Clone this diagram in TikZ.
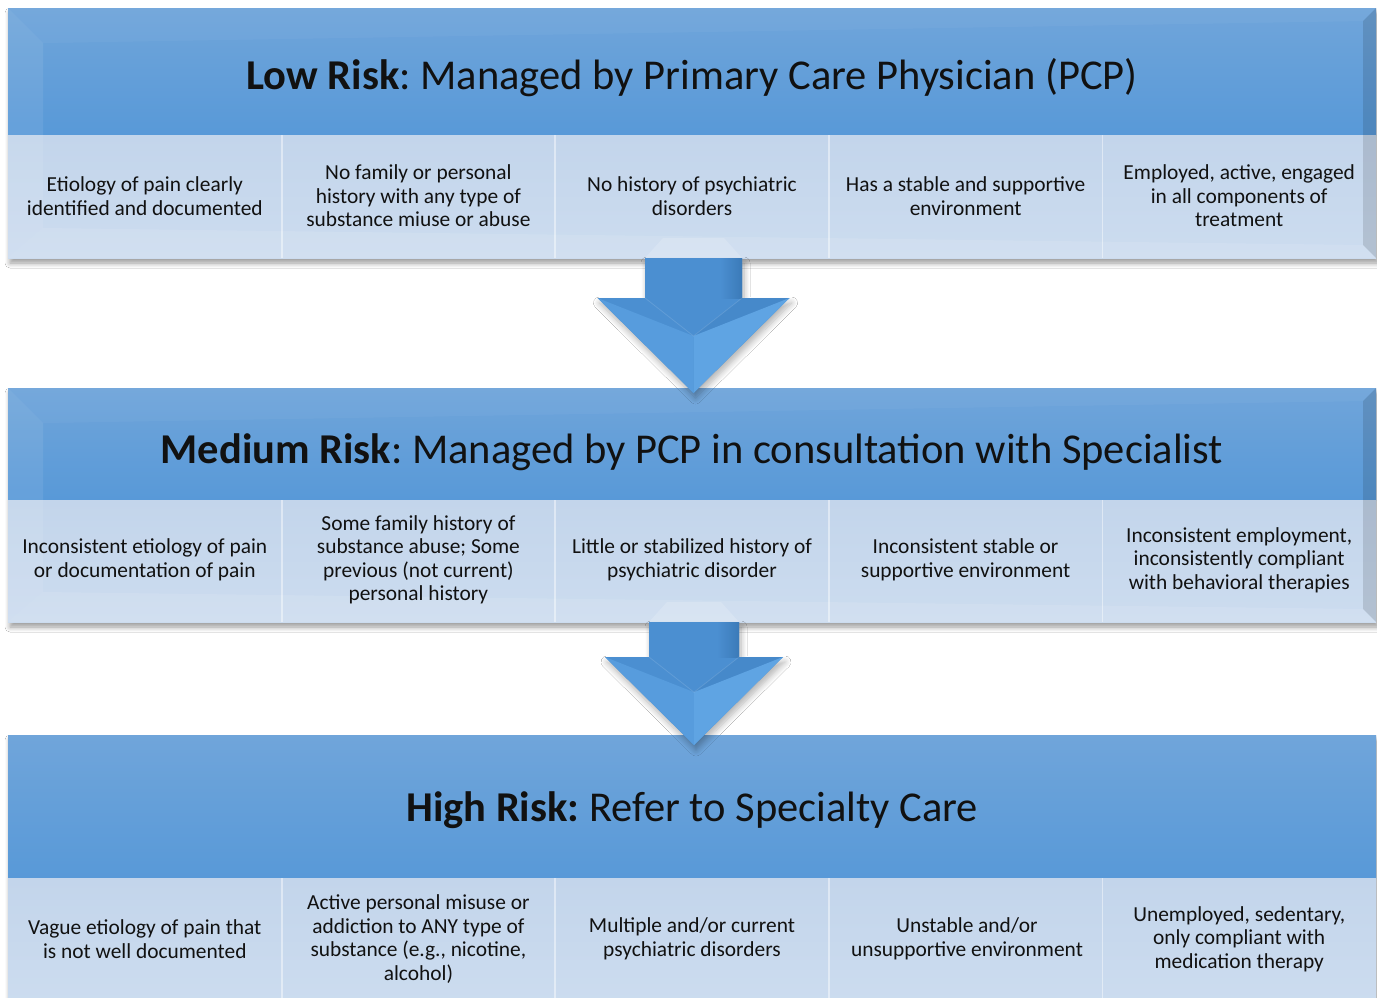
\documentclass[tikz,border=0pt]{standalone}
\usepackage{fontspec}
\setmainfont{Carlito}
\usetikzlibrary{calc,shadows.blur}
\frenchspacing

\definecolor{hdtop}{HTML}{70A5DA}
\definecolor{hdbot}{HTML}{5899D8}
\definecolor{celltop}{HTML}{C3D5EB}
\definecolor{cellbot}{HTML}{CCDCEF}
\definecolor{arrowmain}{HTML}{4B8FD1}
\definecolor{arrowlight}{HTML}{579CDD}
\definecolor{arrowlighter}{HTML}{5FA4E3}
\definecolor{arrowdark}{HTML}{3B7AB8}
\definecolor{inktext}{HTML}{111111}

\tikzset{
  bandshadow/.style={fill=celltop, blur shadow={shadow xshift=2pt, shadow yshift=-5pt,
      shadow opacity=40, shadow blur radius=5pt, shadow blur steps=8}},
  headfill/.style={top color=hdtop, bottom color=hdbot},
  cellfill/.style={top color=celltop, bottom color=cellbot},
  divider/.style={white, opacity=.45, line width=1.8pt},
  titletext/.style={anchor=base, text=inktext, font=\fontsize{42.5}{50}\selectfont},
  celltext/.style={align=center, text=inktext, font=\fontsize{21.4}{23.5}\selectfont},
}

% one risk band: header strip, five cells and the dividers between them
% #1 top, #2 header bottom, #3 band bottom
\newcommand\riskband[3]{%
  \fill[bandshadow] (8,#1) rectangle (1376,#3);
  \shade[headfill] (8,#1) rectangle (1376,#2);
  \shade[cellfill] (8,#2) rectangle (1376,#3);
  \foreach \k in {1,...,4}
    \draw[divider] ({8+273.6*\k},#2) -- ({8+273.6*\k},#3);
}

% bevelled frame on a band: lit on the left, top and bottom, shaded on the right
\newcommand\bandbevel[2]{%
  \fill[white, opacity=.04] (8,#1) -- (1376,#1) -- (1363,#1+13) -- (43,#1+35) -- cycle;
  \fill[white, opacity=.08] (8,#1) -- (43,#1+35) -- (43,#2-30) -- (8,#2) -- cycle;
  \fill[white, opacity=.10] (8,#2) -- (43,#2-30) -- (1363,#2-13) -- (1376,#2) -- cycle;
  \fill[black, opacity=.12] (1376,#1) -- (1363,#1+13) -- (1363,#2-13) -- (1376,#2) -- cycle;
}

% block arrow pointing down
% #1 name, #2 centre x, #3 shaft top, #4 head base, #5 tip, #6 shaft half width, #7 head half width
\newcommand\riskarrow[7]{%
  \pgfmathsetmacro\arrH{#4-#3}%
  \pgfmathsetmacro\arrT{#5-#3}%
  \pgfmathsetmacro\arrC{#4-#3+0.4*(#5-#4)}%
  \coordinate (#1) at (#2,#3);
  \coordinate (#1-tip) at ($(#1)+(0,\arrT)$);
  \coordinate (#1-ridge) at ($(#1)+(0,\arrC)$);
  \coordinate (#1-wl) at ($(#1)+(-#7,\arrH)$);
  \coordinate (#1-wr) at ($(#1)+(#7,\arrH)$);
  \coordinate (#1-sl) at ($(#1)+(-#6,\arrH)$);
  \coordinate (#1-sr) at ($(#1)+(#6,\arrH)$);
  \fill[white, opacity=.16] ($(#1)+(-#6,0)$) -- ($(#1)+(-#6+18,-20)$) -- ($(#1)+(#6-18,-20)$) -- ($(#1)+(#6,0)$) -- cycle;
  \fill[arrowmain, blur shadow={shadow xshift=2pt, shadow yshift=-5pt, shadow opacity=30,
      shadow blur radius=6pt, shadow blur steps=8}]
    ($(#1)+(-#6,0)$) -- ($(#1)+(#6,0)$) -- (#1-sr) -- (#1-wr) -- (#1-tip) -- (#1-wl) -- (#1-sl) -- cycle;
  \shade[left color=arrowmain, right color=arrowdark] ($(#1)+(#6-22,0)$) rectangle (#1-sr);
  \fill[arrowdark, opacity=.25] (#1-sr) -- (#1-wr) -- (#1-ridge) -- cycle;
  \fill[arrowlight] (#1-wl) -- (#1-ridge) -- (#1-tip) -- cycle;
  \fill[arrowlighter] (#1-wr) -- (#1-ridge) -- (#1-tip) -- cycle;
  \draw[white, opacity=.12, line width=.8pt] (#1-sl) -- (#1-ridge) -- (#1-sr);
}

\begin{document}
\begin{tikzpicture}[x=1pt, y=-1pt]
\useasboundingbox (0,0) rectangle (1377,997);
\fill[white] (0,0) rectangle (1377,997);

% bands
\riskband{8}{135}{258}
\bandbevel{8}{258}
\riskband{388}{500}{622}
\bandbevel{388}{622}
\riskband{735}{878}{1004}

% arrows between the bands
\riskarrow{arrA}{693.5}{258}{298}{393}{48.5}{96}
\riskarrow{arrB}{694}{622}{657}{745}{45}{89}

% titles
\node[titletext] (lowtitle) at (692,89) {\textbf{Low Risk}: Managed by Primary Care Physician (PCP)};
\node[titletext] (medtitle) at (692,463) {\textbf{Medium Risk}: Managed by PCP in consultation with Specialist};
\node[titletext] (hightitle) at (692,821) {\textbf{High Risk:} Refer to Specialty Care};

% low risk criteria
\node[celltext] (low1) at (144.8,196) {Etiology of pain clearly\\identified and documented};
\node[celltext] (low2) at (418.4,196) {No family or personal\\history with any type of\\substance miuse or abuse};
\node[celltext] (low3) at (692,196) {No history of psychiatric\\disorders};
\node[celltext] (low4) at (965.6,196) {Has a stable and supportive\\environment};
\node[celltext] (low5) at (1239.2,196) {Employed, active, engaged\\in all components of\\treatment};

% medium risk criteria
\node[celltext] (med1) at (144.8,560) {Inconsistent etiology of pain\\or documentation of pain};
\node[celltext] (med2) at (418.4,560) {Some family history of\\substance abuse; Some\\previous (not current)\\personal history};
\node[celltext] (med3) at (692,560) {Little or stabilized history of\\psychiatric disorder};
\node[celltext] (med4) at (965.6,560) {Inconsistent stable or\\supportive environment};
\node[celltext] (med5) at (1239.2,560) {Inconsistent employment,\\inconsistently compliant\\with behavioral therapies};

% high risk criteria
\node[celltext] (high1) at (144.8,939) {Vague etiology of pain that\\is not well documented};
\node[celltext] (high2) at (418.4,939) {Active personal misuse or\\addiction to ANY type of\\substance (e.g., nicotine,\\alcohol)};
\node[celltext] (high3) at (692,939) {Multiple and/or current\\psychiatric disorders};
\node[celltext] (high4) at (967,939) {Unstable and/or\\unsupportive environment};
\node[celltext] (high5) at (1239.2,939) {Unemployed, sedentary,\\only compliant with\\medication therapy};
\end{tikzpicture}
\end{document}
